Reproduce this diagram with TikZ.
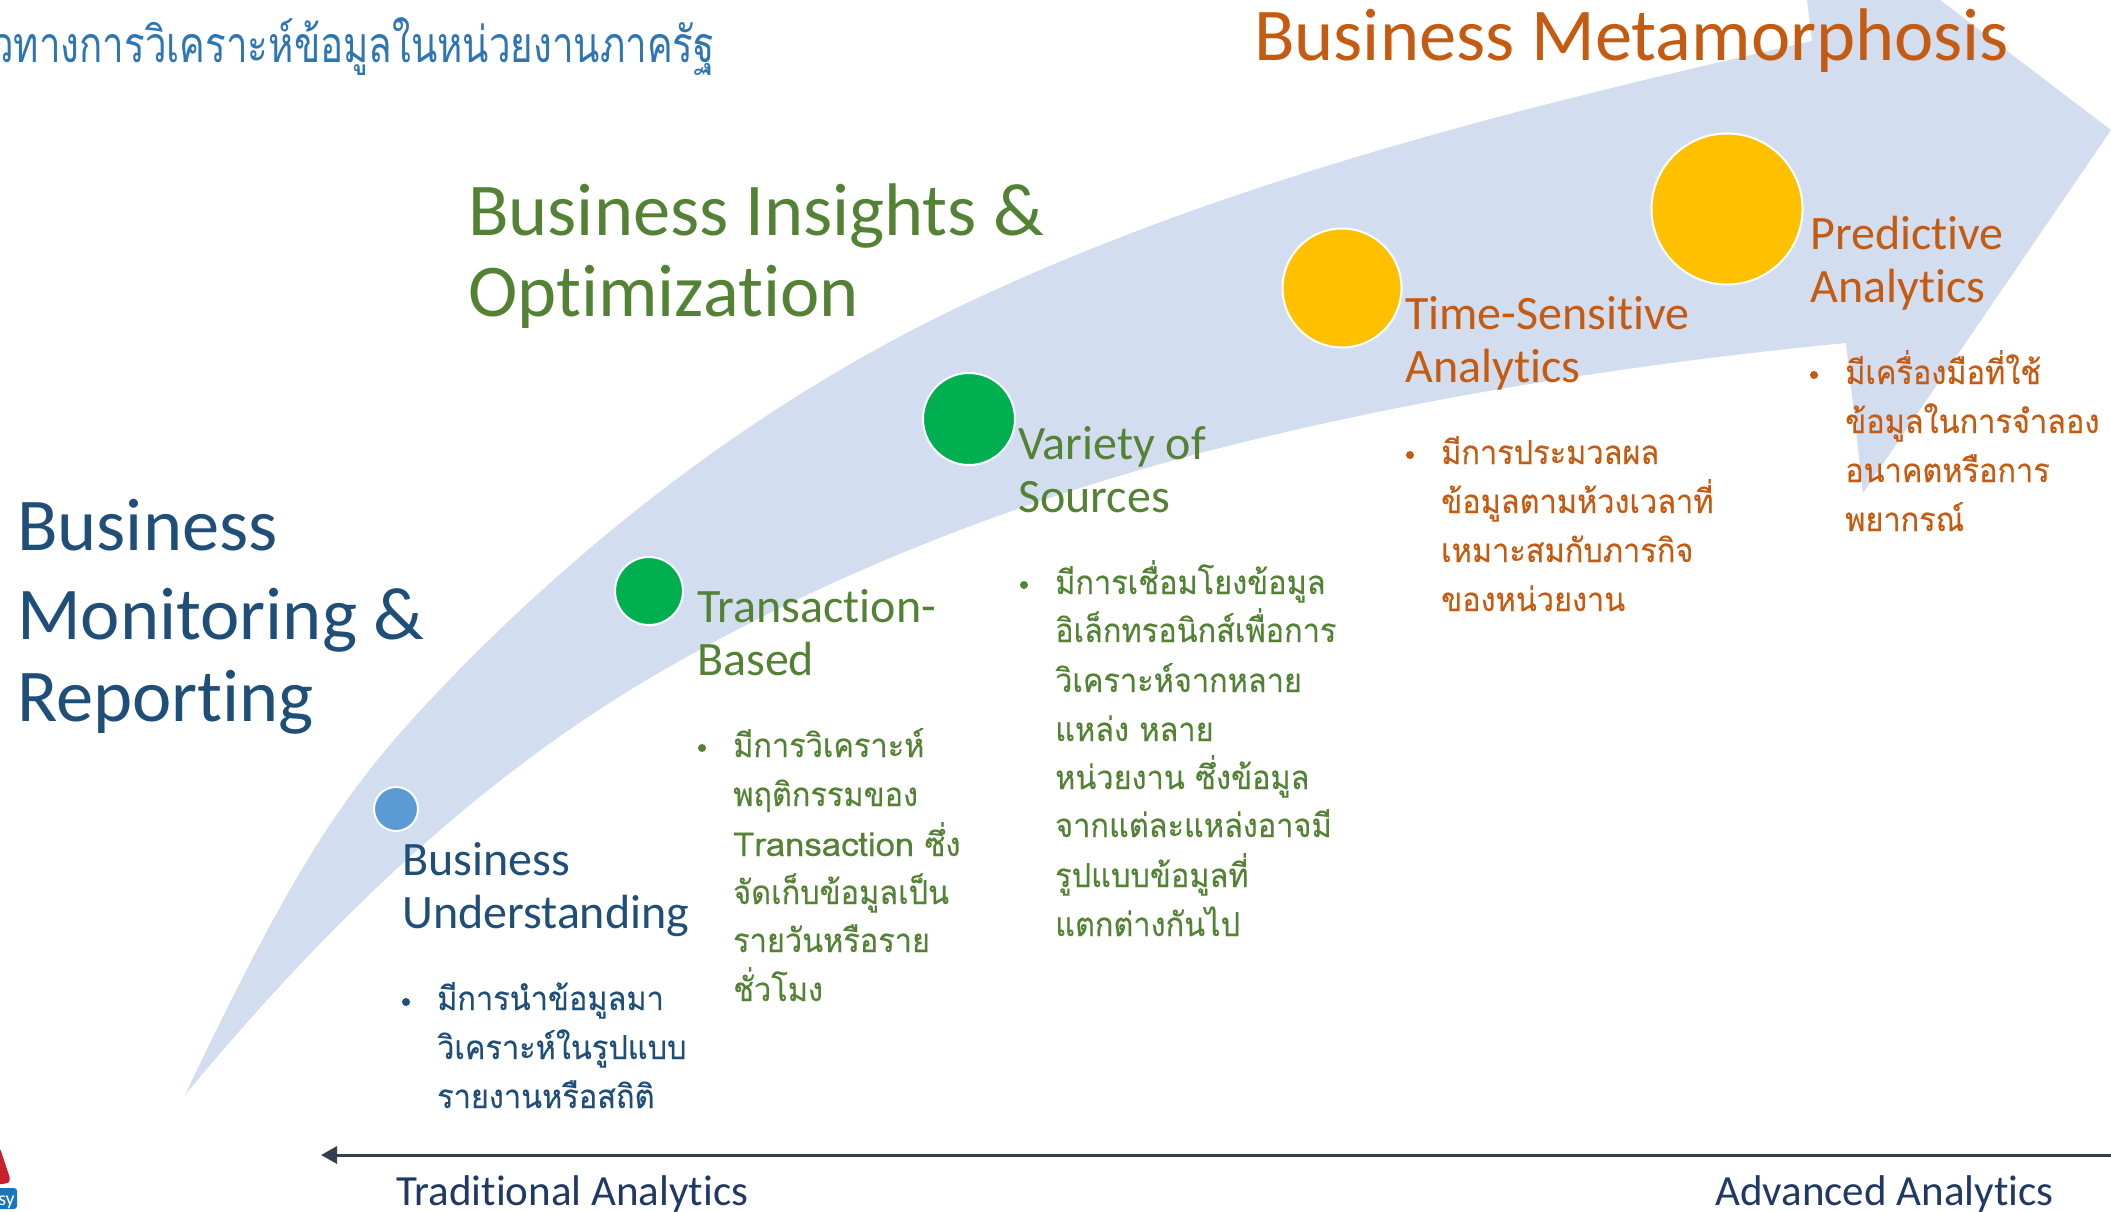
\documentclass[tikz,border=0pt]{standalone}
\usepackage{fontspec}
\setmainfont[Ligatures=NoCommon]{Carlito}
\newfontfamily\thaifont[Script=Thai,FakeStretch=0.93,FakeBold=0.3]{Loma}
\newfontfamily\thaiwide[Script=Thai,FakeStretch=1.05,FakeBold=0.3]{Loma}
\newfontfamily\thaititle[Script=Thai,FakeStretch=0.77]{Loma}
\usetikzlibrary{arrows.meta}
\definecolor{bandblue}{HTML}{D2DDEF}
\definecolor{navytext}{HTML}{1F4E79}
\definecolor{greentext}{HTML}{548235}
\definecolor{orangetext}{HTML}{C55A11}
\definecolor{titleblue}{HTML}{2E75B6}
\definecolor{axistext}{HTML}{203864}
\definecolor{axisline}{HTML}{333F50}
\definecolor{dotblue}{HTML}{5B9BD5}
\definecolor{dotgreen}{HTML}{00B050}
\definecolor{dotyellow}{HTML}{FFC000}
\definecolor{logored}{HTML}{C8202C}
\definecolor{logoblue}{HTML}{1B75BC}
\tikzset{
    stage/.style={circle, draw=white, line width=2pt, inner sep=0pt},
    headline/.style={anchor=base west, inner sep=0pt, font=\fontsize{74.5}{74.5}\selectfont},
    steplabel/.style={anchor=base west, inner sep=0pt, font=\fontsize{48}{48}\selectfont},
    axislabel/.style={anchor=base west, inner sep=0pt, text=axistext, font=\fontsize{43}{43}\selectfont},
    thailine/.style={anchor=base west, inner sep=0pt, xshift=-1pt, yshift=1pt, font=\thaifont\fontsize{33}{33}\selectfont},
    bulletdot/.style={circle, inner sep=0pt, minimum size=8pt}
}
\begin{document}
\begin{tikzpicture}[x=1pt, y=-1pt]
    \useasboundingbox (0,0) rectangle (2111,1212);
    \clip (0,0) rectangle (2111,1212);
    \coordinate (A) at (396,809);
    \coordinate (B) at (649,591);
    \coordinate (C) at (969,419);
    \coordinate (D) at (1342,288);
    \coordinate (E) at (1727,209);
    \coordinate (axisright) at (2111,1155);
    \coordinate (axisleft) at (321,1155);
    % the band
    \fill[bandblue] (185,1095)
        .. controls (290,875) and (340,795) .. (433,697)
        .. controls (583,538) and (767,397) .. (967,303)
        .. controls (1229,179) and (1529,105) .. (1812,41)
        -- (1807,0) -- (1940,0) -- (2111,130) -- (1863,493) -- (1846,343)
        .. controls (1647,362) and (1434,395) .. (1240,443)
        .. controls (1036,493) and (831,571) .. (650,678)
        .. controls (469,785) and (319,933) .. (185,1095) -- cycle;
    % stages
    \node[stage, fill=dotblue, minimum size=44pt] (understand) at (A) {};
    \node[stage, fill=dotgreen, minimum size=68pt] (transaction) at (B) {};
    \node[stage, fill=dotgreen, minimum size=92pt] (variety) at (C) {};
    \node[stage, fill=dotyellow, minimum size=119pt] (timesense) at (D) {};
    \node[stage, fill=dotyellow, minimum size=151pt] (predict) at (E) {};
    % titles
    \node[anchor=base east, inner sep=0pt, text=titleblue, font=\thaititle\fontsize{50}{50}\selectfont] (topline) at (715,63) {วทางการวิเคราะห์ข้อมูลในหน่วยงานภาครัฐ};
    \node[headline, text=orangetext] (metamorph) at (1254,61) {Business Metamorphosis};
    \node[headline, text=greentext] (insightA) at (468,235) {Business Insights \&};
    \node[headline, text=greentext] (insightB) at (468,316) {Optimization};
    \node[headline, text=navytext] (monitorA) at (17,550) {Business};
    \node[headline, text=navytext] (monitorB) at (17,639) {Monitoring \&};
    \node[headline, text=navytext] (monitorC) at (17,721) {Reporting};
    % stage labels
    \node[steplabel, text=navytext] (labelAa) at (402,875) {Business};
    \node[steplabel, text=navytext] (labelAb) at (402,928) {Understanding};
    \node[steplabel, text=greentext] (labelBa) at (697,622) {Transaction-};
    \node[steplabel, text=greentext] (labelBb) at (697,675) {Based};
    \node[steplabel, text=greentext] (labelCa) at (1018,459) {Variety of};
    \node[steplabel, text=greentext] (labelCb) at (1018,512) {Sources};
    \node[steplabel, text=orangetext] (labelDa) at (1405,329) {Time-Sensitive};
    \node[steplabel, text=orangetext] (labelDb) at (1405,382) {Analytics};
    \node[steplabel, text=orangetext] (labelEa) at (1810,249) {Predictive};
    \node[steplabel, text=orangetext] (labelEb) at (1810,302) {Analytics};
    % bullet lists
    \node[bulletdot, fill=navytext] (dotA) at (406,1002) {};
    \node[thailine, text=navytext] (textAa) at (438,1011) {มีการนำข้อมูลมา};
    \node[thailine, text=navytext] (textAb) at (438,1060) {วิเคราะห์ในรูปแบบ};
    \node[thailine, text=navytext] (textAc) at (438,1109) {รายงานหรือสถิติ};
    \node[bulletdot, fill=greentext] (dotB) at (702,748) {};
    \node[thailine, text=greentext] (textBa) at (734,758) {มีการวิเคราะห์};
    \node[thailine, text=greentext] (textBb) at (734,807) {พฤติกรรมของ};
    \node[thailine, text=greentext] (textBc) at (734,857) {{\thaiwide Transaction} ซึ่ง};
    \node[thailine, text=greentext] (textBd) at (734,905) {จัดเก็บข้อมูลเป็น};
    \node[thailine, text=greentext] (textBe) at (734,953) {รายวันหรือราย};
    \node[thailine, text=greentext] (textBf) at (734,1002) {ชั่วโมง};
    \node[bulletdot, fill=greentext] (dotC) at (1024,585) {};
    \node[thailine, text=greentext] (textCa) at (1056,595) {มีการเชื่อมโยงข้อมูล};
    \node[thailine, text=greentext] (textCb) at (1056,643) {อิเล็กทรอนิกส์เพื่อการ};
    \node[thailine, text=greentext] (textCc) at (1056,693) {วิเคราะห์จากหลาย};
    \node[thailine, text=greentext] (textCd) at (1056,742) {แหล่ง หลาย};
    \node[thailine, text=greentext] (textCe) at (1056,790) {หน่วยงาน ซึ่งข้อมูล};
    \node[thailine, text=greentext] (textCf) at (1056,838) {จากแต่ละแหล่งอาจมี};
    \node[thailine, text=greentext] (textCg) at (1056,888) {รูปแบบข้อมูลที่};
    \node[thailine, text=greentext] (textCh) at (1056,937) {แตกต่างกันไป};
    \node[bulletdot, fill=orangetext] (dotD) at (1410,455) {};
    \node[thailine, text=orangetext] (textDa) at (1442,465) {มีการประมวลผล};
    \node[thailine, text=orangetext] (textDb) at (1442,514) {ข้อมูลตามห้วงเวลาที่};
    \node[thailine, text=orangetext] (textDc) at (1442,563) {เหมาะสมกับภารกิจ};
    \node[thailine, text=orangetext] (textDd) at (1442,612) {ของหน่วยงาน};
    \node[bulletdot, fill=orangetext] (dotE) at (1814,375) {};
    \node[thailine, text=orangetext] (textEa) at (1846,385) {มีเครื่องมือที่ใช้};
    \node[thailine, text=orangetext] (textEb) at (1846,434) {ข้อมูลในการจำลอง};
    \node[thailine, text=orangetext] (textEc) at (1846,483) {อนาคตหรือการ};
    \node[thailine, text=orangetext] (textEd) at (1846,532) {พยากรณ์};
    % axis
    \draw[axisline, line width=3pt, -{Triangle[length=16pt, width=17pt]}] (axisright) -- (axisleft);
    \node[axislabel] (traditional) at (396,1205) {Traditional Analytics};
    \node[axislabel] (advanced) at (1715,1205) {Advanced Analytics};
    % logo corner
    \fill[logored, rounded corners=4pt] (-6,1140) -- (0,1148) -- (11,1181) -- (6,1184) -- (-6,1184) -- cycle;
    \fill[logoblue, rounded corners=3pt] (-10,1188) rectangle (17,1209);
    \node[anchor=base east, inner sep=0pt, text=white, font=\fontsize{20}{20}\selectfont] (logotext) at (15,1205) {sy};
\end{tikzpicture}
\end{document}
